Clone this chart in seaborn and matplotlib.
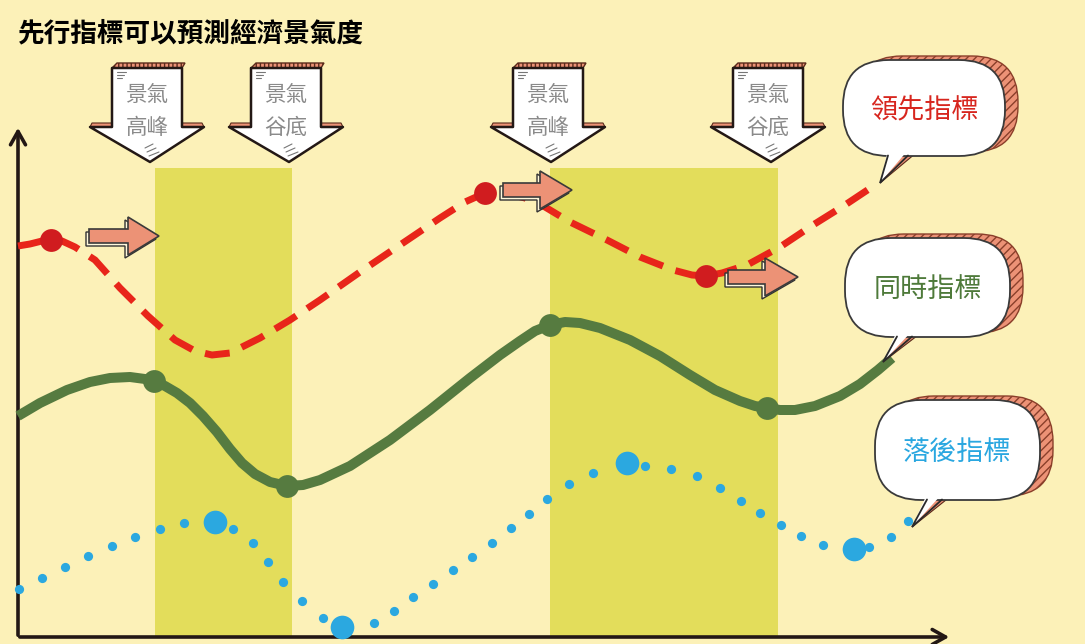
import matplotlib
matplotlib.use("Agg")
import matplotlib.pyplot as plt
import seaborn as sns
import pandas as pd
from matplotlib.patches import FancyBboxPatch, Polygon

# ---------------- data (pixel-like chart units) -------------
title = "先行指標可以預測經濟景氣度"

# leading indicator (red dashed curve)
lead_x = [18, 30, 42, 51, 62, 75, 95, 120, 148, 175, 195, 212, 230, 260, 290, 320,
          360, 400, 440, 465, 485, 505, 525, 545, 570, 607, 640, 673, 692, 706,
          722, 747, 780, 813, 845, 875]
lead_y = [246, 244, 241, 240, 241, 247, 260, 288, 316, 340, 351, 355, 353, 338,
          320, 300, 272, 245, 218, 202, 193, 193, 198, 207, 222, 240, 257, 270,
          275, 276, 273, 265, 247, 225, 205, 185]
lead_mark_x = [51, 485, 706]
lead_mark_y = [240, 193, 276]

# coincident indicator (green solid curve)
coin_x = [18, 40, 67, 90, 110, 130, 145, 154, 165, 177, 190, 203, 217, 230, 242,
          255, 270, 287, 303, 320, 350, 390, 430, 470, 500, 520, 535, 550, 565,
          580, 600, 630, 660, 690, 715, 740, 755, 767, 780, 795, 815, 840, 860,
          878, 892]
coin_y = [416, 403, 390, 382, 378, 377, 379, 381, 386, 393, 403, 416, 432, 449,
          463, 474, 482, 486, 485, 480, 466, 440, 410, 378, 355, 341, 331, 325,
          322, 323, 328, 340, 356, 375, 390, 401, 406, 408, 410, 410, 406, 396,
          384, 370, 358]
coin_mark_x = [154, 287, 550, 767]
coin_mark_y = [381, 486, 325, 408]

# lagging indicator (blue dots)
lag_x = [19, 42, 65, 88, 112, 135, 160, 184, 233, 253, 268, 283, 302, 323, 374,
         394, 413, 433, 453, 472, 492, 511, 529, 547, 569, 593, 645, 671, 697,
         720, 741, 760, 781, 801, 823, 869, 891, 908]
lag_y = [589, 578, 567, 556, 546, 537, 529, 523, 529, 543, 562, 582, 601, 618,
         623, 611, 597, 584, 570, 557, 543, 528, 514, 499, 484, 473, 466, 469,
         476, 488, 501, 513, 525, 536, 545, 547, 537, 521]
lag_mark_x = [215, 342, 627, 854]
lag_mark_y = [522, 627, 463, 549]

# shaded phases
band_start = [155, 550]
band_end = [292, 778]
band_top = 168
axis_base = 637

cycle_labels = ["景氣\n高峰", "景氣\n谷底", "景氣\n高峰", "景氣\n谷底"]
cycle_x = [147, 286, 548, 768]

bubble_labels = ["領先指標", "同時指標", "落後指標"]
bubble_colors = ["#D7261E", "#4E7A3A", "#2AA7E0"]
bubble_boxes = [(843, 60, 1005, 156), (845, 238, 1010, 337), (875, 400, 1040, 500)]
bubble_tails = [(888, 908, 880, 183), (897, 912, 883, 362), (927, 942, 912, 527)]

shift_arrows = [(89, 236, 128, 159), (503, 190, 540, 572), (728, 277, 765, 798)]

# ---------------- style -------------
BG = "#FCF1B8"
BAND = "#E3DD5B"
RED = "#E8251A"
RED_M = "#D01C1F"
GREEN = "#567B40"
BLUE = "#2BA8E0"
SALMON = "#EC9276"
INK = "#231815"

sns.set_theme(style="white")
plt.rcParams["font.family"] = ["Noto Sans CJK TC", "DejaVu Sans"]

fig = plt.figure(figsize=(10.85, 6.44), dpi=100)
fig.patch.set_facecolor(BG)
ax = fig.add_axes([0, 0, 1, 1])
ax.set_facecolor(BG)

# bands
for s, e in zip(band_start, band_end):
    ax.fill_between([s, e], band_top, axis_base, color=BAND, lw=0, zorder=1)

# axes with arrows
ax.annotate("", xy=(952, axis_base), xytext=(17, axis_base),
            arrowprops=dict(arrowstyle="->,head_length=0.8,head_width=0.45",
                            color=INK, lw=2.6), zorder=3)
ax.annotate("", xy=(18, 125), xytext=(18, axis_base + 1),
            arrowprops=dict(arrowstyle="->,head_length=0.8,head_width=0.45",
                            color=INK, lw=2.6), zorder=3)

# lines
lead = pd.DataFrame({"x": lead_x, "y": lead_y})
coin = pd.DataFrame({"x": coin_x, "y": coin_y})
sns.lineplot(data=coin, x="x", y="y", sort=False, estimator=None, color=GREEN,
             linewidth=7.2, solid_joinstyle="round", solid_capstyle="butt",
             ax=ax, zorder=4)
sns.lineplot(data=lead, x="x", y="y", sort=False, estimator=None, color=RED,
             linewidth=5.0, linestyle=(0, (3.6, 1.9)), dash_capstyle="butt",
             dash_joinstyle="round", ax=ax, zorder=4)
sns.scatterplot(x=lag_x, y=lag_y, s=44, color=BLUE, linewidth=0, ax=ax, zorder=5)
sns.scatterplot(x=lag_mark_x, y=lag_mark_y, s=290, color=BLUE, linewidth=0,
                ax=ax, zorder=5)
sns.scatterplot(x=coin_mark_x, y=coin_mark_y, s=270, color=GREEN, linewidth=0,
                ax=ax, zorder=5)
sns.scatterplot(x=lead_mark_x, y=lead_mark_y, s=270, color=RED_M, linewidth=0,
                ax=ax, zorder=5)
ax.set_xlim(0, 1085)
ax.set_ylim(644, 0)
ax.axis("off")

# down arrows "景氣 高峰 / 谷底"
top, base, tip, sw, hw = 68, 127, 162, 35, 57
for cx, lab in zip(cycle_x, cycle_labels):
    strip = Polygon([(cx - sw, top), (cx - sw + 5, top - 5), (cx + sw + 3, top - 5),
                     (cx + sw, top)], closed=True, facecolor=SALMON,
                    edgecolor="#5a2a1a", lw=1.0, hatch="||||", zorder=6)
    ax.add_patch(strip)
    for sgn in (-1, 1):
        fl = Polygon([(cx + sgn * sw, base), (cx + sgn * sw, base - 4),
                      (cx + sgn * (hw - 2), base - 4), (cx + sgn * hw, base)],
                     closed=True, facecolor=SALMON, edgecolor="#5a2a1a", lw=0.8,
                     zorder=6)
        ax.add_patch(fl)
    arr = Polygon([(cx - sw, top), (cx + sw, top), (cx + sw, base), (cx + hw, base),
                   (cx + 3, tip), (cx - hw, base), (cx - sw, base)], closed=True,
                  facecolor="white", edgecolor=INK, lw=1.8, joinstyle="round",
                  zorder=7)
    ax.add_patch(arr)
    for k in range(3):
        ax.plot([cx - sw + 5, cx - sw + 14 - k * 2], [top + 4 + k * 3, top + 4 + k * 3],
                color="#777777", lw=0.8, zorder=8)
        ax.plot([cx + 2 - k * 2, cx + 12 - k * 3], [tip - 6 - k * 4, tip - 10 - k * 4],
                color="#777777", lw=0.8, zorder=8)
    l1, l2 = lab.split("\n")
    ax.text(cx, 95, l1, ha="center", va="center", fontsize=15.5, color="#8A8A8A",
            zorder=9)
    ax.text(cx, 128, l2, ha="center", va="center", fontsize=15.5, color="#8A8A8A",
            zorder=9)

# pink shift arrows
for x0, yc, xh, xt in shift_arrows:
    sh, hh = 7, 19
    pts = [(x0, yc - sh), (xh, yc - sh), (xh, yc - hh), (xt, yc), (xh, yc + hh),
           (xh, yc + sh), (x0, yc + sh)]
    shadow = Polygon([(px - 3, py + 3) for px, py in pts], closed=True,
                     facecolor="#FFF7DA", edgecolor="#333333", lw=1.0, zorder=10)
    ax.add_patch(shadow)
    main = Polygon(pts, closed=True, facecolor=SALMON, edgecolor="#3a3a3a", lw=1.2,
                   zorder=11)
    ax.add_patch(main)

# speech bubbles
for (x0, y0, x1, y1), (bl, br, tx, ty), lab, col in zip(
        bubble_boxes, bubble_tails, bubble_labels, bubble_colors):
    w, h = x1 - x0, y1 - y0
    shadow = FancyBboxPatch((x0 + 13, y0 - 4), w, h,
                            boxstyle="round,pad=0,rounding_size=46",
                            facecolor=SALMON, edgecolor="#8a3f2a", lw=1.0,
                            hatch="////", zorder=12)
    ax.add_patch(shadow)
    ax.add_patch(Polygon([(br - 4, y1 - 6), (br + 14, y1 - 8), (tx, ty)], closed=True,
                         facecolor=SALMON, edgecolor="#5a2a1a", lw=0.8, zorder=12))
    bub = FancyBboxPatch((x0, y0), w, h, boxstyle="round,pad=0,rounding_size=46",
                         facecolor="white", edgecolor="#3a3a3a", lw=1.3, zorder=13)
    ax.add_patch(bub)
    ax.add_patch(Polygon([(bl, y1 - 6), (br, y1 - 6), (tx, ty)], closed=True,
                         facecolor="white", edgecolor="none", zorder=14))
    ax.plot([bl, tx, br], [y1 - 0.5, ty, y1 - 0.5], color="#2a2a2a", lw=1.3,
            solid_joinstyle="miter", zorder=15)
    ax.text((x0 + x1) / 2, (y0 + y1) / 2 + 2, lab, ha="center", va="center",
            fontsize=19.5, color=col, fontweight="medium", zorder=16)

# title
ax.text(18, 34, title, ha="left", va="center", fontsize=19.2, fontweight="heavy",
        color="black", zorder=20)

fig.savefig("out.png", dpi=100, facecolor=BG)
